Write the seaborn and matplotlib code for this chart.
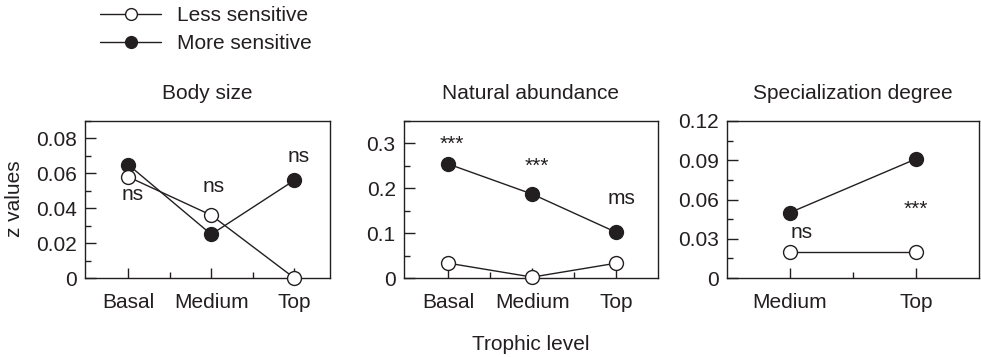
import matplotlib
matplotlib.use("Agg")
import matplotlib.pyplot as plt
from matplotlib.ticker import FixedLocator, MultipleLocator, FuncFormatter
import numpy as np
import pandas as pd
import seaborn as sns

# ---- data -------------------------------------------------------------
levels_3 = ["Basal", "Medium", "Top"]
levels_2 = ["Medium", "Top"]

body_less = [0.058, 0.036, 0.0]
body_more = [0.065, 0.025, 0.056]
body_marks = ["ns", "ns", "ns"]

abund_less = [0.033, 0.002, 0.033]
abund_more = [0.254, 0.187, 0.102]
abund_marks = ["***", "***", "ms"]

spec_less = [0.020, 0.020]
spec_more = [0.050, 0.091]
spec_marks = ["ns", "***"]

titles = ["Body size", "Natural abundance", "Specialization degree"]
series_names = ["Less sensitive", "More sensitive"]

# ---- style ------------------------------------------------------------
sns.set_style("white")
INK = "#231f20"
FS = 15
plt.rcParams["font.family"] = ["Liberation Sans", "DejaVu Sans"]
plt.rcParams["font.size"] = FS
plt.rcParams["text.color"] = INK
plt.rcParams["axes.edgecolor"] = INK
plt.rcParams["xtick.color"] = INK
plt.rcParams["ytick.color"] = INK

fig = plt.figure(figsize=(9.81, 3.57), dpi=100)
W, H = 981.0, 357.0


def add_axes(left_px, right_px, top_px, bottom_px):
    return fig.add_axes([left_px / W, 1 - bottom_px / H,
                         (right_px - left_px) / W, (bottom_px - top_px) / H])


ax1 = add_axes(85, 330, 121, 278)
ax2 = add_axes(404, 658, 121, 278)
ax3 = add_axes(727, 979, 121, 278)


def draw_panel(ax, cats, less, more, marks, mark_pos, title,
               ylim, major, minor, fmt, xlim):
    df = pd.DataFrame({
        "level": cats * 2,
        "z": list(more) + list(less),
        "group": ["More sensitive"] * len(cats) + ["Less sensitive"] * len(cats),
    })
    common = dict(x="level", y="z", ax=ax, sort=False, legend=False,
                  color=INK, linewidth=1.0, marker="o", markersize=10,
                  markeredgecolor=INK, markeredgewidth=1.0, clip_on=False)
    sns.lineplot(data=df[df.group == "More sensitive"],
                 markerfacecolor=INK, zorder=3, **common)
    sns.lineplot(data=df[df.group == "Less sensitive"],
                 markerfacecolor="white", zorder=4, **common)

    # significance labels, one per trophic level (offset, height)
    for i, ((dx, yv), txt) in enumerate(zip(mark_pos, marks)):
        ax.text(i + dx, yv, txt, ha="center", va="baseline", fontsize=FS,
                color=INK)

    ax.set_xlim(*xlim)
    ax.set_ylim(*ylim)
    ax.yaxis.set_major_locator(MultipleLocator(major))
    ax.yaxis.set_minor_locator(MultipleLocator(minor))
    ax.yaxis.set_major_formatter(FuncFormatter(fmt))
    n = len(cats)
    ax.xaxis.set_major_locator(FixedLocator(np.arange(n)))
    ax.xaxis.set_minor_locator(FixedLocator(np.arange(n - 1) + 0.5))
    ax.set_xticklabels(cats)
    ax.tick_params(axis="both", which="both", direction="in",
                   colors=INK, width=1.0, labelsize=FS)
    ax.tick_params(axis="x", which="major", length=7, pad=11,
                   bottom=True)
    ax.tick_params(axis="x", which="minor", length=4, bottom=True)
    ax.tick_params(axis="y", which="major", length=8, pad=6, left=True)
    ax.tick_params(axis="y", which="minor", length=4, left=True)
    ax.set_xlabel("")
    ax.set_ylabel("")
    for sp in ax.spines.values():
        sp.set_linewidth(1.0)
        sp.set_color(INK)
    ax.set_title(title, fontsize=FS, pad=16, color=INK)


def f2(v, _):
    return "0" if abs(v) < 1e-9 else f"{v:.2f}"


def f1(v, _):
    return "0" if abs(v) < 1e-9 else f"{v:.1f}"


draw_panel(ax1, levels_3, body_less, body_more, body_marks,
           [(0.05, 0.0447), (0.03, 0.0493), (0.05, 0.0666)],
           titles[0], (0, 0.09), 0.02, 0.01, f2, (-0.52, 2.43))
draw_panel(ax2, levels_3, abund_less, abund_more, abund_marks,
           [(0.04, 0.285), (0.05, 0.236), (0.07, 0.164)],
           titles[1], (0, 0.35), 0.1, 0.05, f1, (-0.53, 2.5))
draw_panel(ax3, levels_2, spec_less, spec_more, spec_marks,
           [(0.09, 0.0304), (0.0, 0.0483)],
           titles[2], (0, 0.12), 0.03, 0.015, f2, (-0.5, 1.5))

# axis titles shared by the row of panels
fig.text(14 / W, 1 - 199 / H, "z values", rotation=90, ha="center",
         va="center", fontsize=FS, color=INK)
fig.text(531 / W, 1 - 350 / H, "Trophic level", ha="center",
         va="baseline", fontsize=FS, color=INK)

# legend built from the first panel's lines
handles = [ax1.lines[1], ax1.lines[0]]
fig.legend(handles, series_names, loc="upper left",
           bbox_to_anchor=(100 / W, 1 - 6 / H), frameon=False,
           borderpad=0, borderaxespad=0, handlelength=2.95,
           handletextpad=0.75, labelspacing=0.45, markerscale=0.85,
           fontsize=FS)

fig.savefig("out.png", dpi=100)
